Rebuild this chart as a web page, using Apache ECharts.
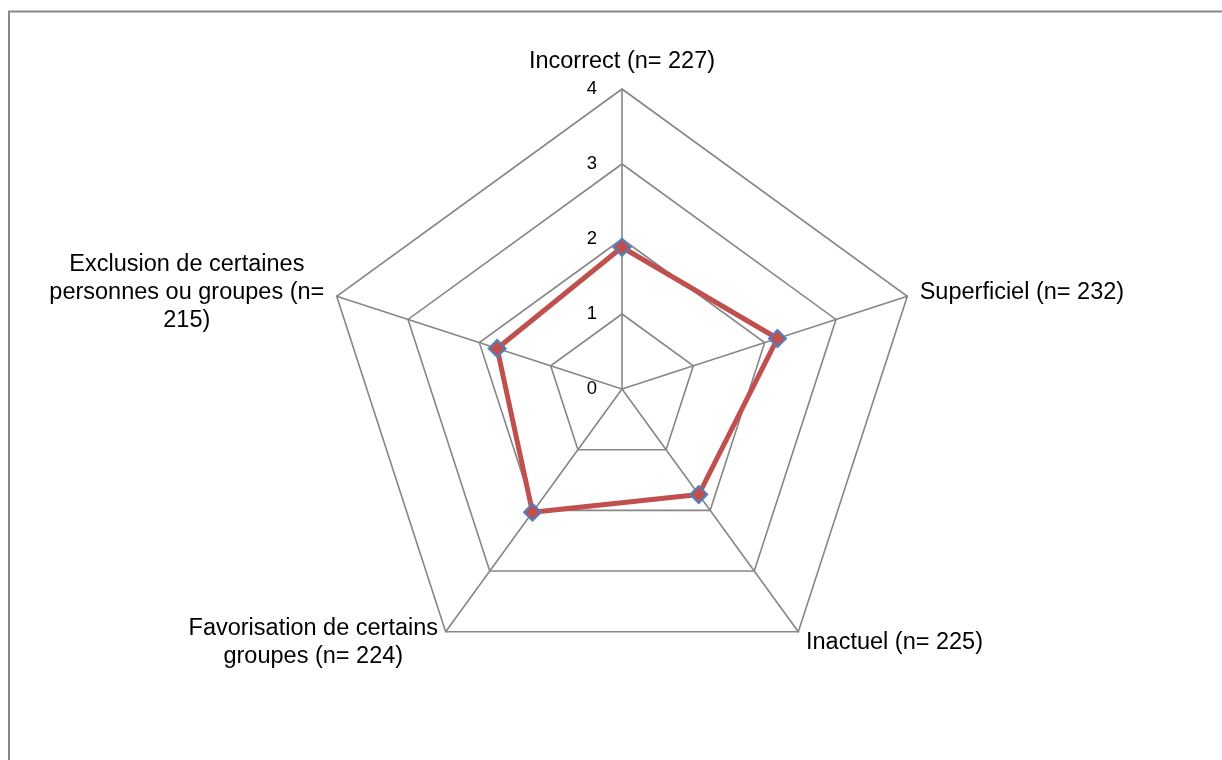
<!DOCTYPE html>
<html>
<head>
<meta charset="utf-8">
<style>
  html, body { margin: 0; padding: 0; background: #ffffff; }
  #chart { width: 1222px; height: 760px; }
</style>
<script src="https://cdn.jsdelivr.net/npm/echarts@6/dist/echarts.min.js"></script>
</head>
<body>
<div id="chart"></div>
<script>
// ---- data (clockwise order, starting at top) ----
const categories = [
  'Incorrect (n= 227)',
  'Superficiel (n= 232)',
  'Inactuel (n= 225)',
  'Favorisation de certains\ngroupes (n= 224)',
  'Exclusion de certaines\npersonnes ou groupes (n=\n215)'
];
const values = [1.89, 2.18, 1.74, 2.03, 1.75];
const axisMin = 0;
const axisMax = 4;
const splitCount = 4;

// ECharts lays radar indicators counter-clockwise: keep the first, reverse the rest
const order = [0].concat(categories.map((_, i) => i).slice(1).reverse());
const orderedCats = order.map(i => categories[i]);
const orderedVals = order.map(i => values[i]);

// ---- chart ----
const chart = echarts.init(document.getElementById('chart'), null, { renderer: 'canvas' });

const indicators = orderedCats.map((name, i) => {
  const ind = { name: name, min: axisMin, max: axisMax };
  if (i === 0) {
    ind.axisLabel = { show: true };
  }
  return ind;
});

const option = {
  backgroundColor: '#ffffff',
  animation: false,
  graphic: [{
    type: 'rect',
    shape: { x: 9, y: 11.5, width: 1400, height: 1000 },
    style: { fill: 'none', stroke: '#878787', lineWidth: 2 },
    silent: true
  }],
  radar: {
    center: [622, 389],
    radius: 300,
    startAngle: 90,
    shape: 'polygon',
    splitNumber: splitCount,
    nameGap: 13,
    axisName: {
      color: '#000000',
      fontFamily: '"Liberation Sans", Arial, sans-serif',
      fontSize: 23.5,
      lineHeight: 28,
      formatter: function (name) {
        return name.split('\n').map(l => '{c|' + l + '}').join('\n');
      },
      rich: {
        c: {
          align: 'center',
          color: '#000000',
          fontFamily: '"Liberation Sans", Arial, sans-serif',
          fontSize: 23.5,
          lineHeight: 28
        }
      }
    },
    axisLine: { lineStyle: { color: '#868686', width: 1.6 } },
    splitLine: { lineStyle: { color: '#868686', width: 1.6 } },
    splitArea: { show: false },
    axisTick: { show: false },
    axisLabel: {
      show: false,
      color: '#000000',
      fontFamily: '"Liberation Sans", Arial, sans-serif',
      fontSize: 18.5,
      margin: 25
    },
    indicator: indicators
  },
  series: [{
    type: 'radar',
    symbol: 'diamond',
    symbolSize: 17,
    lineStyle: { color: '#C0504D', width: 5 },
    itemStyle: { color: '#C0504D', borderColor: '#4F81BD', borderWidth: 2 },
    data: [{ value: orderedVals }]
  }]
};

chart.setOption(option);
</script>
</body>
</html>
